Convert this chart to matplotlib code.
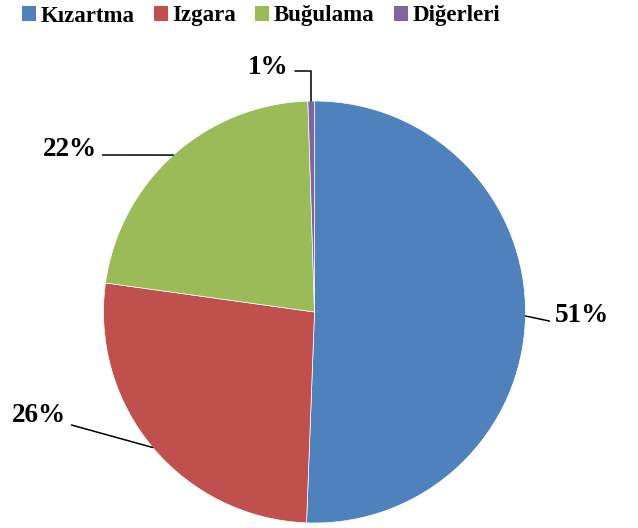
import numpy as np
import matplotlib
matplotlib.use("Agg")
import matplotlib.pyplot as plt
from matplotlib.patches import Patch

categories = ["Kızartma", "Izgara", "Buğulama", "Diğerleri"]
values = [50.6, 26.6, 22.3, 0.5]
labels = ["51%", "26%", "22%", "1%"]
colors = ["#4F81BD", "#C0504D", "#9BBB59", "#8064A2"]

W, H = 638, 528
fig = plt.figure(figsize=(W / 100, H / 100), dpi=100)
cx, cy, R = 314.5, 312, 211
ax = fig.add_axes([(cx - R) / W, (H - cy - R) / H, 2 * R / W, 2 * R / H])

wedges, _ = ax.pie(values, colors=colors, startangle=90, counterclock=False,
                   radius=1, wedgeprops=dict(edgecolor="white", linewidth=0.5))
ax.set_xlim(-1, 1)
ax.set_ylim(-1, 1)
ax.set_aspect("equal")
ax.axis("off")

font = dict(family="Liberation Serif", weight="bold", size=19.5)

def px(x, y):
    return ((x - cx) / R, (cy - y) / R)

# label layout: (text anchor pixel, ha, relpos, connectionstyle)
layout = [
    (px(555, 316), "left", (0, 0.25), "arc3"),
    (px(66, 416), "right", (1, 0.2), "arc3"),
    (px(97, 150), "right", (1, 0.3), "arc3"),
    (px(289, 67), "right", (1, 0.35), "angle,angleA=0,angleB=90,rad=0"),
]

for w, lab, (pos, ha, rel, cs) in zip(wedges, labels, layout):
    mid = np.deg2rad((w.theta1 + w.theta2) / 2)
    xy = (np.cos(mid), np.sin(mid))
    ax.annotate(lab, xy=xy, xytext=pos, ha=ha, va="center", **font,
                annotation_clip=False,
                arrowprops=dict(arrowstyle="-", color="black", lw=1.1,
                                relpos=rel, connectionstyle=cs,
                                shrinkA=2, shrinkB=0))

handles = [Patch(facecolor=c, edgecolor="none") for c in colors]
fig.legend(handles, categories, loc="center", bbox_to_anchor=(261 / W, 1 - 16 / H),
           ncol=4, frameon=False, prop=dict(family="Liberation Serif", weight="bold", size=16.5),
           handlelength=0.6, handleheight=0.6, handletextpad=0.2, columnspacing=0.85,
           borderaxespad=0, borderpad=0)

fig.savefig("out.png", dpi=100)
